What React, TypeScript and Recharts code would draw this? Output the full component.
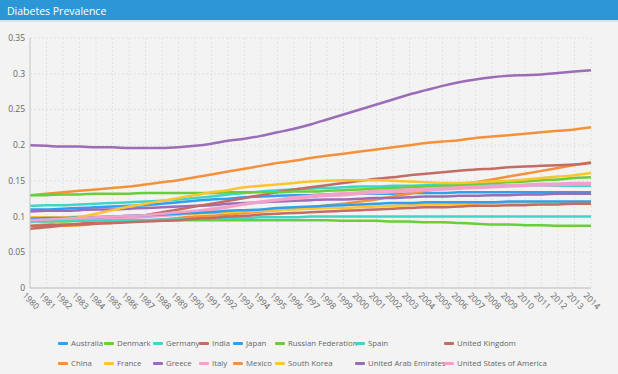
import { CartesianGrid, Line, LineChart, XAxis, YAxis } from "recharts";

const YEARS = [
  1980, 1981, 1982, 1983, 1984, 1985, 1986, 1987, 1988, 1989, 1990, 1991, 1992, 1993, 1994, 1995, 1996, 1997,
  1998, 1999, 2000, 2001, 2002, 2003, 2004, 2005, 2006, 2007, 2008, 2009, 2010, 2011, 2012, 2013, 2014,
];

const australia = [.110, .110, .111, .112, .113, .114, .115, .116, .118, .120, .122, .124, .125, .127, .128, .129, .130, .130, .131, .131, .132, .132, .132, .133, .133, .133, .134, .134, .134, .134, .134, .134, .134, .134, .134];
const china = [.085, .086, .087, .088, .090, .091, .093, .094, .096, .098, .100, .101, .103, .105, .107, .109, .111, .113, .116, .118, .121, .124, .128, .132, .136, .140, .144, .148, .152, .156, .160, .164, .168, .172, .176];
const denmark = [.093, .093, .093, .094, .094, .094, .094, .095, .095, .095, .095, .095, .095, .095, .095, .095, .095, .095, .095, .094, .094, .094, .093, .093, .092, .092, .091, .090, .089, .089, .088, .088, .087, .087, .087];
const france = [.099, .099, .099, .100, .100, .100, .101, .101, .102, .103, .104, .105, .106, .107, .108, .109, .110, .111, .112, .112, .113, .114, .115, .116, .117, .117, .118, .118, .119, .119, .119, .120, .120, .120, .120];
const germany = [.115, .116, .116, .117, .118, .119, .120, .121, .122, .124, .126, .128, .131, .133, .135, .137, .138, .139, .140, .141, .142, .142, .143, .143, .144, .144, .144, .144, .144, .144, .144, .144, .143, .143, .143];
const greece = [.107, .108, .108, .109, .110, .110, .111, .112, .113, .114, .115, .116, .118, .119, .120, .121, .122, .123, .124, .124, .125, .126, .126, .127, .128, .128, .129, .129, .130, .130, .131, .131, .132, .132, .132];
const india = [.083, .085, .088, .090, .093, .096, .099, .102, .106, .110, .114, .118, .122, .126, .130, .134, .138, .141, .144, .147, .150, .153, .155, .158, .160, .162, .164, .166, .167, .169, .170, .171, .172, .173, .175];
const italy = [.092, .093, .094, .095, .096, .097, .098, .099, .101, .103, .106, .109, .113, .117, .120, .123, .125, .127, .129, .130, .132, .133, .134, .135, .137, .138, .139, .140, .141, .142, .143, .144, .144, .145, .145];
const japan = [.097, .098, .098, .099, .099, .100, .101, .102, .103, .104, .105, .106, .108, .109, .110, .112, .113, .114, .115, .116, .117, .118, .119, .119, .120, .120, .120, .120, .120, .121, .121, .121, .121, .121, .121];
const mexico = [.130, .132, .134, .136, .138, .140, .142, .145, .148, .151, .155, .159, .163, .167, .171, .175, .178, .182, .185, .188, .191, .194, .197, .200, .203, .205, .207, .210, .212, .214, .216, .218, .220, .222, .225];
const russia = [.130, .130, .131, .131, .132, .132, .132, .133, .133, .133, .133, .133, .134, .134, .134, .134, .135, .135, .136, .137, .138, .139, .140, .141, .142, .143, .144, .146, .147, .148, .149, .151, .152, .154, .155];
const southKorea = [.086, .090, .094, .099, .104, .109, .114, .118, .122, .126, .130, .134, .137, .141, .143, .145, .147, .149, .150, .151, .151, .151, .150, .149, .148, .147, .147, .148, .149, .150, .152, .154, .156, .158, .161];
const spain = [.093, .093, .094, .094, .094, .095, .095, .095, .096, .096, .097, .097, .098, .098, .099, .099, .099, .100, .100, .100, .100, .100, .100, .100, .100, .100, .100, .100, .100, .100, .100, .100, .100, .100, .100];
const uae = [.200, .199, .198, .198, .197, .197, .196, .196, .196, .197, .199, .202, .206, .209, .213, .218, .223, .229, .236, .243, .250, .257, .264, .271, .277, .283, .288, .292, .295, .297, .298, .299, .301, .303, .305];
const uk = [.087, .088, .089, .089, .090, .091, .092, .093, .094, .095, .097, .098, .100, .101, .103, .104, .105, .106, .107, .108, .109, .110, .111, .112, .113, .113, .114, .115, .115, .116, .116, .117, .117, .118, .118];
const usa = [.095, .096, .097, .098, .099, .100, .101, .102, .104, .106, .108, .111, .114, .118, .121, .124, .127, .129, .131, .133, .134, .136, .137, .138, .139, .140, .141, .142, .143, .144, .145, .146, .146, .147, .147];

const SERIES: [string, number[]][] = [
  ["Australia", australia],
  ["China", china],
  ["Denmark", denmark],
  ["France", france],
  ["Germany", germany],
  ["Greece", greece],
  ["India", india],
  ["Italy", italy],
  ["Japan", japan],
  ["Mexico", mexico],
  ["Russian Federation", russia],
  ["South Korea", southKorea],
  ["Spain", spain],
  ["United Arab Emirates", uae],
  ["United Kingdom", uk],
  ["United States of America", usa],
];

const Y_TICKS = [0, 0.05, 0.1, 0.15, 0.2, 0.25, 0.3, 0.35];

const PALETTE = ["#2f9ff0", "#f5913a", "#6acd3a", "#fcc42e", "#40d6c6", "#9b6cb8", "#c26c63", "#f2a1c8"];
const LEGEND_COLS = [58, 104, 153, 199, 233, 275, 355, 444];
const FONT = "'Open Sans', 'Noto Sans', sans-serif";

const rows = YEARS.map((year, i) => {
  const row: Record<string, number | string> = { year: String(year) };
  SERIES.forEach(([name, vals]) => (row[name] = vals[i]));
  return row;
});

function XTick({ x, y, payload }: any) {
  const tx = x - 3;
  const ty = y + 1;
  return (
    <text x={tx} y={ty} transform={`rotate(45 ${tx} ${ty})`} fontSize={8.5} fill="#666" textAnchor="start" dominantBaseline="hanging" fontFamily={FONT}>
      {payload.value}
    </text>
  );
}

export default function App() {
  return (
    <div style={{ position: "fixed", left: 0, top: 0, width: 618, height: 374, background: "#f3f3f3", fontFamily: FONT, overflow: "hidden" }}>
      <div style={{ position: "absolute", left: 0, top: 0, width: 618, height: 22, background: "#2b97d6", borderBottom: "2px solid #cfe6f5", color: "#fff", fontSize: 10.5, lineHeight: "22px", paddingLeft: 7, boxSizing: "border-box" }}>
        Diabetes Prevalence
      </div>
      <div style={{ position: "absolute", left: 0, top: 0 }}>
        <LineChart width={618} height={374} data={rows} margin={{ top: 38, right: 27, bottom: 56, left: 0 }}>
          <CartesianGrid stroke="#e2e2e2" strokeDasharray="2 2" />
          <XAxis
            dataKey="year"
            interval={0}
            height={30}
            tickSize={0}
            tickMargin={2}
            tick={<XTick />}
            axisLine={{ stroke: "#d6d6d6", strokeWidth: 2 }}
            padding={{ left: 0, right: 0 }}
          />
          <YAxis
            domain={[0, 0.35]}
            ticks={Y_TICKS}
            width={30}
            tickSize={0}
            tickMargin={5}
            tick={{ fontSize: 8.5, fill: "#666", fontFamily: FONT }}
            axisLine={{ stroke: "#c8c8c8" }}
          />
          {SERIES.map(([name], i) => (
            <Line
              key={name}
              dataKey={name}
              type="monotone"
              stroke={PALETTE[i % PALETTE.length]}
              strokeWidth={2.5}
              dot={false}
              isAnimationActive={false}
            />
          ))}
        </LineChart>
      </div>
      {SERIES.map(([name], i) => (
        <div
          key={name}
          style={{
            position: "absolute",
            left: LEGEND_COLS[Math.floor(i / 2)],
            top: i % 2 === 0 ? 337 : 357,
            height: 12,
            display: "flex",
            alignItems: "center",
            fontSize: 7.8,
            color: "#666",
            whiteSpace: "nowrap",
          }}
        >
          <span style={{ width: 10, height: 3, background: PALETTE[i % PALETTE.length], marginRight: 3, borderRadius: 1 }} />
          {name}
        </div>
      ))}
    </div>
  );
}
